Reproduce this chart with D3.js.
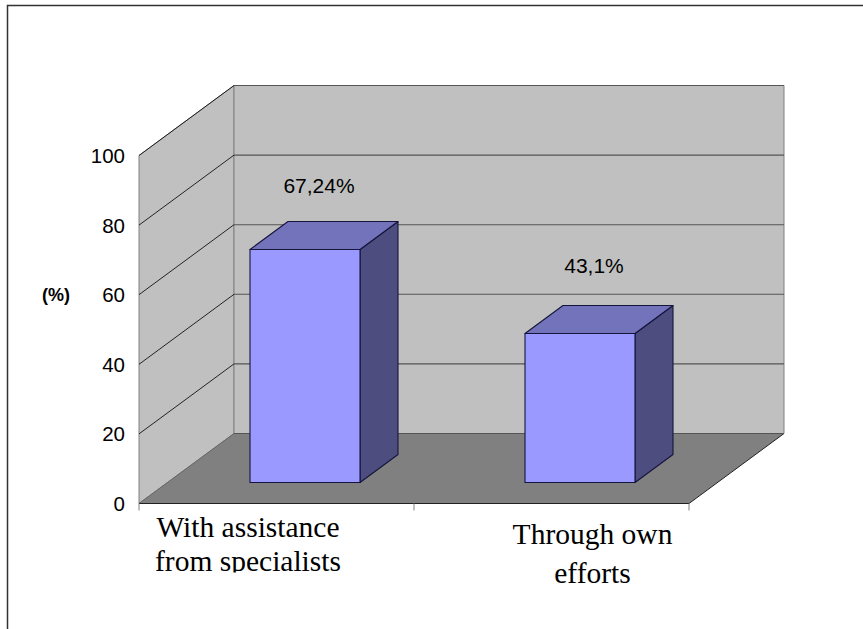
<!DOCTYPE html>
<html><head><meta charset="utf-8">
<script src="https://cdn.jsdelivr.net/npm/d3@7/dist/d3.min.js"></script>
<style>html,body{margin:0;padding:0;background:#fff}svg{display:block}</style>
</head><body><svg id="c" width="863" height="629"></svg>
<script>
const categories = ["With assistance from specialists", "Through own efforts"];
const categoryLines = [["With assistance","from specialists"],["Through own","efforts"]];
const values = [67.24, 43.1];
const valueLabels = ["67,24%", "43,1%"];
const tickValues = [0, 20, 40, 60, 80, 100];
const yTitle = "(%)";

const svg = d3.select("#c");
const depthX = 95, depthY = 70;
const y = d3.scaleLinear().domain([0,100]).range([503.5,155.5]);
const x = d3.scaleBand().domain(categories).range([139,689]).paddingInner(0).paddingOuter(0);
const sans = "'Liberation Sans',Arial,sans-serif", serif = "'Liberation Serif','Times New Roman',serif";
const poly = pts => "M" + pts.map(p=>p.join(",")).join("L") + "Z";
const x0 = x.range()[0], x1 = x.range()[1], y0 = y(0), yT = y(100);

svg.append("path").attr("d",`M7.5,629V5.5H863`).attr("fill","none").attr("stroke","#333").attr("stroke-width",1.5);

svg.append("path").attr("d",poly([[x0,y0],[x0+depthX,y0-depthY],[x0+depthX,yT-depthY],[x0,yT]]))
  .attr("fill","#c0c0c0").attr("stroke","#808080");
svg.append("path").attr("d",poly([[x0+depthX,y0-depthY],[x1+depthX,y0-depthY],[x1+depthX,yT-depthY],[x0+depthX,yT-depthY]]))
  .attr("fill","#c0c0c0").attr("stroke","#808080");
svg.append("path").attr("d",poly([[x0,y0],[x1,y0],[x1+depthX,y0-depthY],[x0+depthX,y0-depthY]])).attr("fill","#808080");
svg.append("path").attr("d",`M${x0},${y0}L${x0+depthX},${y0-depthY}`).attr("stroke","#666").attr("fill","none");
svg.append("path").attr("d",`M${x1},${y0}L${x1+depthX},${y0-depthY}`).attr("stroke","#222").attr("fill","none");
svg.append("path").attr("d",`M${x0+depthX},${y0-depthY}H${x1+depthX}`).attr("stroke","#555").attr("fill","none");

tickValues.filter(t=>t>0).forEach(t=>{
  svg.append("path").attr("d",`M${x0},${y(t)}L${x0+depthX},${y(t)-depthY}`).attr("stroke","#111").attr("stroke-width",0.9).attr("fill","none");
  svg.append("path").attr("d",`M${x0+depthX},${y(t)-depthY}H${x1+depthX}`).attr("stroke","#555").attr("stroke-width",1.1).attr("fill","none");
});

svg.selectAll(".yl").data(tickValues).join("text").attr("class","yl")
  .attr("x",x0-14).attr("y",d=>y(d)+7.5).attr("text-anchor","end")
  .attr("font-family",sans).attr("font-size",20.5).attr("fill","#000").text(d=>d);
svg.append("text").attr("x",56).attr("y",300.5).attr("text-anchor","middle")
  .attr("font-family",sans).attr("font-size",18).attr("font-weight","bold").text(yTitle);

svg.append("path").attr("d",`M${x0},${y0}H${x1}`).attr("stroke","#222").attr("stroke-width",1.2).attr("fill","none");
[x0, ...categories.map(c=>x(c)+x.bandwidth())].forEach(t=>{
  svg.append("path").attr("d",`M${t},${y0}V${y0+7}`).attr("stroke","#808080").attr("fill","none");
});

const barFrac = 0.4, frontFrac = 0.3, backFrac = 0.7;
categories.forEach((c,i)=>{
  const w = x.bandwidth()*barFrac;
  const l = x(c)+(x.bandwidth()-w)/2+depthX*frontFrac, r = l+w;
  const baseDrop = depthY*frontFrac;
  const b = y(0)-baseDrop, t = y(values[i])-baseDrop+1;
  const dx = depthX*(backFrac-frontFrac), dy = depthY*(backFrac-frontFrac);
  const g = svg.append("g").attr("stroke","#14143c").attr("stroke-width",1.1).attr("stroke-linejoin","round");
  g.append("path").attr("d",poly([[r,b],[r+dx,b-dy],[r+dx,t-dy],[r,t]])).attr("fill","#4d4d80");
  g.append("path").attr("d",poly([[l,t],[r,t],[r+dx,t-dy],[l+dx,t-dy]])).attr("fill","#7373bb");
  g.append("path").attr("d",poly([[l,b],[r,b],[r,t],[l,t]])).attr("fill","#9999ff");
});

const labelDx = [14, 14];
const labelDy = [-55.5, -60];
categories.forEach((c,i)=>{
  const cx = x(c)+x.bandwidth()/2+depthX*frontFrac+labelDx[i];
  svg.append("text").attr("x",cx).attr("y",y(values[i])-depthY*frontFrac+labelDy[i])
    .attr("text-anchor","middle").attr("font-family",sans).attr("font-size",21).attr("fill","#000").text(valueLabels[i]);
});

svg.append("clipPath").attr("id","cl").append("rect").attr("x",100).attr("y",505).attr("width",320).attr("height",67.5);
const labelCx = [248, 592.5], labelY = [[537,571],[544,583]];
categoryLines.forEach((lines,i)=>{
  const g = svg.append("g").attr("clip-path", i===0 ? "url(#cl)" : null);
  lines.forEach((s,j)=>{
    g.append("text").attr("x",labelCx[i]).attr("y",labelY[i][j]).attr("text-anchor","middle")
     .attr("font-family",serif).attr("font-size",29.5).attr("fill","#000").text(s);
  });
});
</script></body></html>
